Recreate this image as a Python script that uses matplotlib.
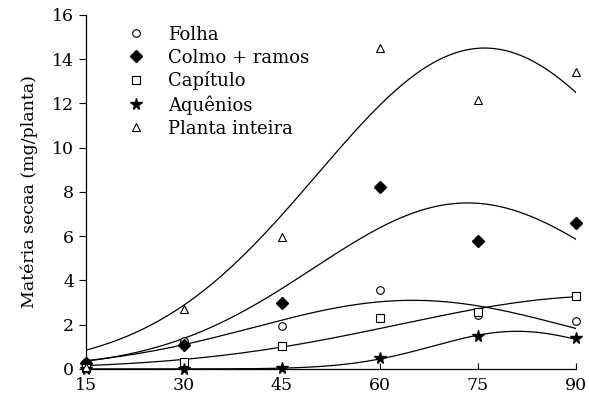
import numpy as np
import matplotlib
matplotlib.use("Agg")
import matplotlib.pyplot as plt

plt.rcParams['font.family'] = ['DejaVu Serif']
plt.rcParams['mathtext.fontset'] = 'dejavuserif'

dias = [15, 30, 45, 60, 75, 90]
folha = [0.3, 1.25, 1.95, 3.55, 2.45, 2.15]
colmo = [0.25, 1.1, 3.0, 8.2, 5.8, 6.6]
capitulo = [0.05, 0.3, 1.05, 2.3, 2.55, 3.3]
aquenios = [0.0, 0.0, 0.05, 0.5, 1.5, 1.4]
planta = [0.1, 2.7, 5.95, 14.5, 12.15, 13.4]

# fitted curve parameters (amplitude, centre, width)
fit_folha = (3.1, 65.0, 24.3)
fit_colmo = (7.5, 73.4, 23.6)
fit_capitulo = (3.3, 95.0, 32.2)
fit_aquenios = (1.7, 81.0, 12.9)
fit_planta = (14.5, 76.0, 25.6)

labels = ['Folha', 'Colmo + ramos', 'Capítulo', 'Aquênios', 'Planta inteira']

fig = plt.figure(figsize=(5.89, 4.01), dpi=100)
ax = fig.add_axes([0.146, 0.080, 0.832, 0.883])

xs = np.linspace(15, 90, 300)
def gauss(p, x):
    a, x0, b = p
    return a * np.exp(-0.5 * ((x - x0) / b) ** 2)

for p in [fit_folha, fit_colmo, fit_capitulo, fit_aquenios, fit_planta]:
    ax.plot(xs, gauss(p, xs), color='black', lw=0.9, zorder=2)

ms = dict(color='black', linestyle='none', zorder=3, clip_on=False)
ax.plot(dias, folha, marker='o', mfc='white', mec='black', ms=5.5, mew=0.8, label=labels[0], **ms)
ax.plot(dias, colmo, marker='D', mfc='black', mec='black', ms=6, label=labels[1], **ms)
ax.plot(dias, capitulo, marker='s', mfc='white', mec='black', ms=5.5, mew=0.8, label=labels[2], **ms)
ax.plot(dias, aquenios, marker='*', mfc='black', mec='black', ms=8.5, label=labels[3], **ms)
ax.plot(dias, planta, marker='^', mfc='white', mec='black', ms=6, mew=0.8, label=labels[4], **ms)

ax.set_xlim(15, 90)
ax.set_ylim(0, 16)
ax.set_xticks(dias)
ax.set_yticks(range(0, 17, 2))
ax.spines['top'].set_visible(False)
ax.spines['right'].set_visible(False)
ax.tick_params(axis='y', direction='out', length=5, labelsize=12.5, width=0.8)
ax.tick_params(axis='x', direction='in', length=4, labelsize=12.5, width=0.8, pad=6)
for s in ['left', 'bottom']:
    ax.spines[s].set_linewidth(0.9)
ax.set_ylabel('Matéria secaa (mg/planta)', fontsize=12.5, labelpad=10)

leg = ax.legend(loc='upper left', bbox_to_anchor=(0.057, 1.0), frameon=False,
                fontsize=13, handlelength=1.2, handletextpad=1.2,
                labelspacing=0.27, borderaxespad=0.2)

fig.savefig('out.png', dpi=100)
